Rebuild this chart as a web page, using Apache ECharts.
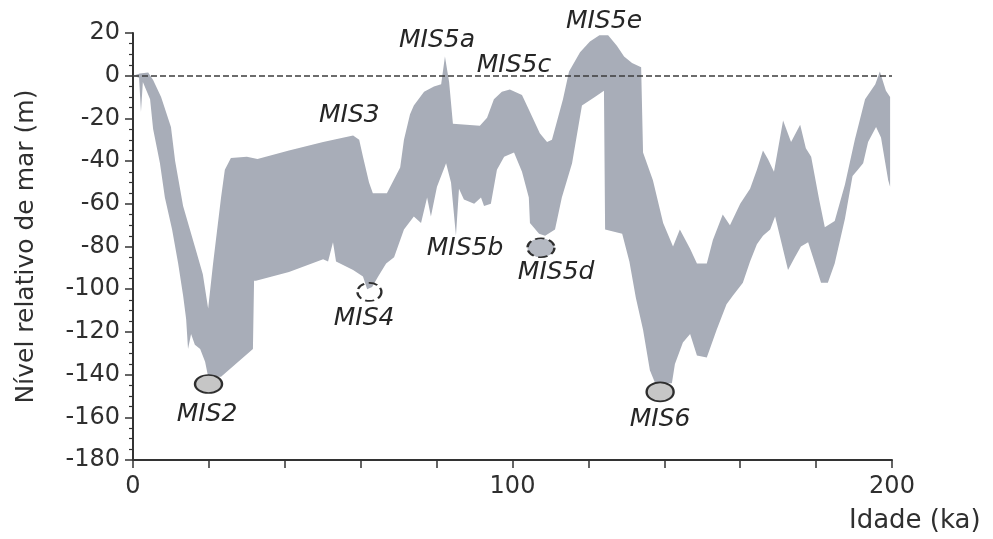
<!DOCTYPE html>
<html>
<head>
<meta charset="utf-8">
<script src="https://cdn.jsdelivr.net/npm/echarts@6/dist/echarts.min.js"></script>
<style>
  html, body { margin: 0; padding: 0; background: #ffffff; }
  #chart { width: 993px; height: 539px; }
</style>
</head>
<body>
<div id="chart"></div>
<script>
// Upper edge of the sea-level envelope: [age (ka), level (m)]
const upperEnvelope = [
  [0, 0], [1.8, 1], [4.0, 1.5], [5.3, -2], [7.4, -10], [10.0, -24], [11.1, -40], [13.2, -61],
  [16.3, -80], [18.4, -93], [19.8, -109], [21.1, -88], [23.2, -57], [24.2, -44], [25.8, -38.5],
  [30.0, -38], [32.8, -39], [41.1, -35], [50.1, -31], [58.0, -28], [59.6, -30], [60.6, -38],
  [62.2, -50], [63.2, -55], [66.9, -55], [70.4, -43], [71.4, -30], [73.0, -18], [74.0, -14],
  [76.7, -7.5], [79.3, -5], [81.2, -4], [82.2, 9], [83.3, -3], [84.3, -22.5], [91.4, -23.4],
  [93.3, -19.7], [95.1, -11], [97.2, -7.5], [99.3, -6.5], [102.5, -9], [104.6, -17], [107.2, -27],
  [109.1, -31], [110.4, -30], [113.3, -11], [114.9, 2], [117.8, 11], [120.4, 16], [122.9, 19],
  [125.2, 19], [127.5, 14], [129.4, 9], [131.5, 6], [133.9, 4], [134.4, -36], [137.0, -49],
  [139.7, -69], [142.3, -80], [144.1, -72], [146.8, -81], [148.6, -88], [151.2, -88], [152.8, -77],
  [155.4, -65], [157.3, -70], [160.0, -60], [162.6, -53], [164.4, -44], [166.0, -35], [167.3, -39],
  [168.9, -45], [171.3, -21], [173.4, -31], [175.8, -23], [177.3, -34], [178.7, -38], [180.8, -58],
  [182.3, -71], [184.9, -68], [187.6, -51], [190.2, -30], [192.9, -11], [195.6, -4], [196.8, 2],
  [198.4, -7], [199.5, -10]
];

// Lower edge of the sea-level envelope: [age (ka), level (m)]
const lowerEnvelope = [
  [0, 0], [1.6, -1], [2.1, -17], [2.6, -3], [4.5, -11], [5.3, -25], [7.1, -41], [8.4, -57],
  [10.3, -72], [11.9, -88], [13.2, -103], [14.0, -114], [14.5, -128], [15.3, -121], [16.3, -126],
  [17.7, -128], [19.0, -134], [19.8, -141], [23.2, -141], [31.6, -128], [31.9, -96], [32.4, -96],
  [41.1, -92], [50.1, -86], [51.4, -87], [52.7, -78], [53.5, -87], [58.0, -91], [60.6, -94],
  [61.7, -100], [63.0, -99], [64.6, -94], [66.7, -88], [68.8, -85], [71.4, -72], [74.0, -66],
  [75.9, -69], [77.5, -57], [78.5, -66], [80.1, -52], [82.5, -41], [83.8, -50], [85.1, -75],
  [85.9, -53], [87.2, -58], [89.9, -60], [91.7, -57], [92.5, -61], [94.3, -60], [95.9, -44],
  [97.8, -38], [100.4, -36], [102.5, -45], [104.3, -57], [104.6, -69], [107.0, -74], [108.6, -75],
  [111.2, -72], [113.0, -57], [115.7, -41], [118.3, -14], [121.7, -10], [124.1, -7], [124.4, -72],
  [128.9, -74], [130.8, -87], [132.5, -104], [134.4, -119], [136.2, -138], [137.6, -144],
  [142.0, -144], [142.8, -135], [144.9, -125], [146.8, -121], [148.6, -131], [151.2, -132],
  [153.8, -119], [156.4, -107], [158.1, -103], [160.7, -97], [162.6, -87], [164.4, -79],
  [166.0, -75], [167.9, -72], [169.2, -66], [172.6, -91], [174.4, -85], [176.0, -80], [177.9, -78],
  [179.7, -88], [181.3, -97], [183.1, -97], [184.9, -88], [187.6, -67], [189.6, -47], [191.0, -44],
  [192.4, -41], [193.7, -31], [195.8, -24], [197.1, -29], [199.0, -49], [199.5, -52]
];

// Marine isotope stage labels
const stageNames = ['MIS2', 'MIS3', 'MIS4', 'MIS5a', 'MIS5b', 'MIS5c', 'MIS5d', 'MIS5e', 'MIS6'];
const stageLabelAge = [19.5, 57.0, 60.9, 80.1, 87.5, 100.4, 111.5, 124.1, 138.9];
const stageLabelLevel = [-158.9, -18.8, -113.9, 16.4, -81.0, 4.7, -92.4, 25.3, -160.8];

// Lowstand markers (ellipses)
const lowstandNames = ['MIS2', 'MIS4', 'MIS5d', 'MIS6'];
const lowstandAge = [19.9, 62.3, 107.5, 138.9];
const lowstandLevel = [-144.4, -101.3, -80.6, -148.1];

// Labelled ages on the horizontal axis
const ageTickLabels = [0, 100, 200];

const textColor = '#2f2f2f';
const fontFamily = '"DejaVu Sans", Verdana, sans-serif';

// Marker appearance per stage
const lowstandLook = {
  MIS2:  { fill: '#c6c6c6', dash: 'solid',  size: [27, 18] },
  MIS4:  { fill: 'rgba(0,0,0,0)', dash: 'dashed', size: [24, 18] },
  MIS5d: { fill: '#b5b9c2', dash: 'dashed', size: [27, 19] },
  MIS6:  { fill: '#c6c6c6', dash: 'solid',  size: [27, 19] }
};

const chart = echarts.init(document.getElementById('chart'), null, { renderer: 'canvas' });

const option = {
  animation: false,
  backgroundColor: '#ffffff',
  grid: { left: 133, right: 101, top: 33, bottom: 79, containLabel: false },
  xAxis: {
    type: 'value',
    min: 0,
    max: 200,
    interval: 20,
    axisLine: { show: true, onZero: false, lineStyle: { color: '#333333', width: 2 } },
    axisTick: { show: true, length: 8, lineStyle: { color: '#333333', width: 1.5 } },
    axisLabel: {
      margin: 15,
      color: textColor,
      fontFamily: fontFamily,
      fontSize: 24,
      formatter: function (v) { return ageTickLabels.indexOf(v) >= 0 ? String(v) : ''; }
    },
    splitLine: { show: false }
  },
  yAxis: {
    type: 'value',
    min: -180,
    max: 20,
    interval: 20,
    name: 'Nível relativo de mar (m)',
    nameLocation: 'middle',
    nameGap: 94,
    nameTextStyle: { color: textColor, fontFamily: fontFamily, fontSize: 25 },
    axisLine: { show: true, onZero: false, lineStyle: { color: '#333333', width: 2 } },
    axisTick: { show: true, length: 8, lineStyle: { color: '#333333', width: 1.5 } },
    minorTick: { show: true, splitNumber: 4, length: 4, lineStyle: { color: '#333333', width: 1.2 } },
    axisLabel: { margin: 13, color: textColor, fontFamily: fontFamily, fontSize: 24 },
    splitLine: { show: false }
  },
  graphic: [
    {
      type: 'text',
      left: 849,
      top: 508,
      style: { text: 'Idade (ka)', fill: textColor, font: '26px ' + fontFamily }
    }
  ],
  series: [
    {
      // shaded envelope between the lower and upper edges
      type: 'custom',
      coordinateSystem: 'cartesian2d',
      silent: true,
      data: [[0, 0]],
      encode: { x: 0, y: 1 },
      z: 1,
      renderItem: function (params, api) {
        if (params.dataIndex !== 0) return null;
        const pts = upperEnvelope.map(function (p) { return api.coord(p); });
        for (let i = lowerEnvelope.length - 1; i >= 0; i--) {
          pts.push(api.coord(lowerEnvelope[i]));
        }
        return {
          type: 'polygon',
          shape: { points: pts },
          style: { fill: '#a8adb8', stroke: null }
        };
      }
    },
    {
      // present-day sea level reference line
      type: 'scatter',
      data: [],
      z: 3,
      markLine: {
        silent: true,
        symbol: ['none', 'none'],
        label: { show: false },
        lineStyle: { color: '#3c3c3c', width: 1.5, type: [6, 3] },
        data: [{ yAxis: 0 }]
      }
    },
    {
      // lowstand ellipses
      type: 'scatter',
      z: 4,
      clip: false,
      silent: true,
      data: lowstandNames.map(function (n, i) {
        const look = lowstandLook[n];
        return {
          name: n,
          value: [lowstandAge[i], lowstandLevel[i]],
          symbol: 'circle',
          symbolSize: look.size,
          itemStyle: {
            color: look.fill,
            borderColor: '#2e2e2e',
            borderWidth: 2,
            borderType: look.dash,
            opacity: 1
          }
        };
      })
    },
    {
      // stage names
      type: 'scatter',
      z: 5,
      clip: false,
      silent: true,
      symbolSize: 0,
      itemStyle: { opacity: 1 },
      data: stageNames.map(function (n, i) {
        return { name: n, value: [stageLabelAge[i], stageLabelLevel[i]] };
      }),
      label: {
        show: true,
        position: 'inside',
        formatter: '{b}',
        color: '#262626',
        opacity: 1,
        fontFamily: fontFamily,
        fontStyle: 'italic',
        fontSize: 25
      }
    }
  ]
};

chart.setOption(option);
</script>
</body>
</html>
